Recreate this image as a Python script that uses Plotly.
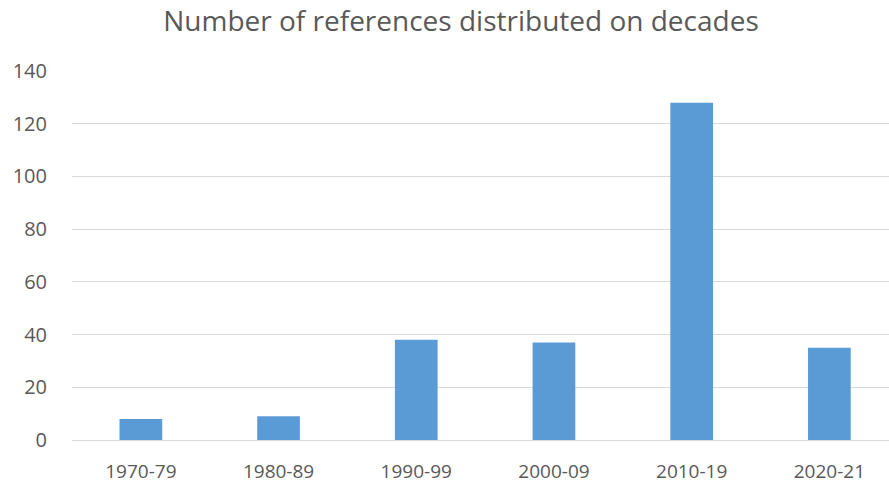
import plotly.graph_objects as go

decades = ["1970-79", "1980-89", "1990-99", "2000-09", "2010-19", "2020-21"]
counts = [8, 9, 38, 37, 128, 35]
y_ticks = [0, 20, 40, 60, 80, 100, 120, 140]

fig = go.Figure(go.Bar(x=decades, y=counts, marker=dict(color="#5b9bd5", line=dict(width=0))))

W, H = 889, 483
fig.update_layout(
    width=W, height=H,
    paper_bgcolor="white", plot_bgcolor="white",
    margin=dict(l=72, r=0, t=71, b=43, autoexpand=False),
    bargap=0.69,
    font=dict(family="Open Sans, Liberation Sans, sans-serif", color="#595959"),
    title=dict(text="Number of references distributed on decades", x=461 / W, xanchor="center",
               y=1 - 21 / H, yanchor="middle", font=dict(size=28, color="#595959")),
    showlegend=False,
)
fig.update_xaxes(type="category", range=[-0.5, 5.433], automargin=False, showgrid=False, showline=False,
                 ticks="", tickfont=dict(size=19, color="#595959"), ticklabelstandoff=18)
fig.update_yaxes(range=[0, 140], tickvals=y_ticks, automargin=False, showgrid=True, gridcolor="#d9d9d9",
                 gridwidth=1.3, zeroline=True, zerolinecolor="#d9d9d9", zerolinewidth=1.3, showline=False,
                 ticks="", tickfont=dict(size=20, color="#595959"), ticklabelstandoff=24)

# remove the page's default body margin so the figure fills the window exactly
fig.write_html("out.html", config={"displayModeBar": False},
               post_script="document.body.style.margin='0';")
